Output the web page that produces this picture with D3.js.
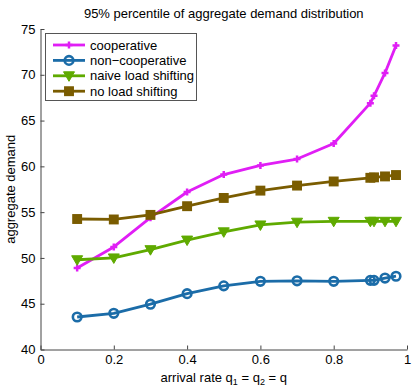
<!DOCTYPE html>
<html>
<head>
<meta charset="utf-8">
<script src="https://cdn.jsdelivr.net/npm/d3@7"></script>
<style>
  body { margin: 0; background: #fff; }
  svg { font-family: "Liberation Sans", Arial, sans-serif; }
</style>
</head>
<body>
<div id="chart"></div>
<script>
var w = 415,
  h = 391,
  fs = 13;

// data
var rates = [0.1, 0.2, 0.3, 0.4, 0.5, 0.6, 0.7, 0.8, 0.9, 0.91, 0.94, 0.97];
var cooperative = [48.9, 51.2, 54.4, 57.2, 59.1, 60.1, 60.8, 62.5, 66.9, 67.7, 70.2, 73.2];
var nonCooperative = [43.55, 43.95, 44.95, 46.1, 46.95, 47.45, 47.5, 47.45, 47.55, 47.55, 47.8, 48.0];
var naive = [49.8, 50.0, 50.9, 51.95, 52.85, 53.6, 53.9, 54.0, 54.0, 54.0, 54.0, 54.0];
var noShift = [54.25, 54.2, 54.7, 55.65, 56.55, 57.35, 57.9, 58.35, 58.75, 58.8, 58.9, 59.05];
var xTicks = [0, 0.2, 0.4, 0.6, 0.8, 1];
var yTicks = [40, 45, 50, 55, 60, 65, 70, 75];

var series = [
  { name: 'cooperative', values: cooperative, color: '#e01ef5', marker: 'plus' },
  { name: 'non\u2212cooperative', values: nonCooperative, color: '#1b6ca8', marker: 'circle' },
  { name: 'naive load shifting', values: naive, color: '#5faa00', marker: 'triangle' },
  { name: 'no load shifting', values: noShift, color: '#7a5c00', marker: 'square' }
];

// plot area (note: "top" clashes with window.top, so prefixed names)
var pLeft = 40.5, pRight = 407, pTop = 29, pBottom = 349.5;

var x = d3.scaleLinear().domain([0, 1]).range([pLeft, pRight]);
var y = d3.scaleLinear().domain([40, 75]).range([pBottom, pTop]);

var svg = d3.select('#chart').append('svg')
  .attr('width', w)
  .attr('height', h);

// axes (matlab style: inward ticks, only left and bottom)
var xAxis = svg.append('g')
  .attr('transform', 'translate(0,' + pBottom + ')')
  .call(d3.axisBottom(x).tickValues(xTicks).tickSizeInner(-4).tickSizeOuter(0)
    .tickFormat(function (d) { return d === 0 || d === 1 ? d : d3.format('.1f')(d); }));
var yAxis = svg.append('g')
  .attr('transform', 'translate(' + pLeft + ',0)')
  .call(d3.axisLeft(y).tickValues(yTicks).tickSizeInner(-4).tickSizeOuter(0));

[xAxis, yAxis].forEach(function (a) {
  a.select('.domain').attr('stroke', '#444').attr('stroke-width', 1);
  a.selectAll('.tick line').attr('stroke', '#444');
  a.selectAll('.tick text').attr('fill', '#000').attr('font-size', fs)
    .attr('font-family', '"Liberation Sans", Arial, sans-serif');
});
xAxis.selectAll('.tick text').attr('dy', '0.71em').attr('y', 5);
yAxis.selectAll('.tick text').attr('x', -5);

// lines
var line = d3.line()
  .x(function (d, i) { return x(rates[i]); })
  .y(function (d) { return y(d); });

function drawMarker(g, type, color) {
  if (type === 'plus') {
    g.append('path').attr('d', 'M-3.5,0H3.5M0,-3.5V3.5')
      .attr('stroke', color).attr('stroke-width', 2.5).attr('fill', 'none');
  } else if (type === 'circle') {
    g.append('circle').attr('r', 4.3).attr('fill', 'none')
      .attr('stroke', color).attr('stroke-width', 2.6);
  } else if (type === 'triangle') {
    g.append('path').attr('d', 'M-5.5,-4L5.5,-4L0,5.5Z').attr('fill', color)
      .attr('stroke', color).attr('stroke-width', 1);
  } else if (type === 'square') {
    g.append('rect').attr('x', -4.2).attr('y', -4.2).attr('width', 8.4).attr('height', 8.4)
      .attr('fill', color).attr('stroke', color).attr('stroke-width', 1.5);
  }
}

series.forEach(function (s) {
  svg.append('path')
    .datum(s.values)
    .attr('d', line)
    .attr('fill', 'none')
    .attr('stroke', s.color)
    .attr('stroke-width', 2.8)
    .attr('stroke-linejoin', 'round');

  s.values.forEach(function (v, i) {
    var g = svg.append('g')
      .attr('transform', 'translate(' + x(rates[i]) + ',' + y(v) + ')');
    drawMarker(g, s.marker, s.color);
  });
});

// title and labels
svg.append('text')
  .attr('x', (pLeft + pRight) / 2).attr('y', 18)
  .attr('text-anchor', 'middle').attr('font-size', fs)
  .text('95% percentile of aggregate demand distribution');

var xl = svg.append('text')
  .attr('x', (pLeft + pRight) / 2).attr('y', 382)
  .attr('text-anchor', 'middle').attr('font-size', fs);
xl.append('tspan').text('arrival rate q');
xl.append('tspan').attr('font-size', 9).attr('dy', 3).text('1');
xl.append('tspan').attr('dy', -3).text(' = q');
xl.append('tspan').attr('font-size', 9).attr('dy', 3).text('2');
xl.append('tspan').attr('dy', -3).text(' = q');

svg.append('text')
  .attr('transform', 'translate(15,' + ((pTop + pBottom) / 2) + ') rotate(-90)')
  .attr('text-anchor', 'middle').attr('font-size', fs)
  .text('aggregate demand');

// legend
var legend = svg.append('g');
legend.append('rect')
  .attr('x', 45.5).attr('y', 33.5).attr('width', 151).attr('height', 67)
  .attr('fill', '#fff').attr('stroke', '#555').attr('stroke-width', 1);

series.forEach(function (s, i) {
  var ly = 45 + i * 15.4;
  legend.append('line')
    .attr('x1', 53).attr('x2', 85).attr('y1', ly).attr('y2', ly)
    .attr('stroke', s.color).attr('stroke-width', 2.8);
  var g = legend.append('g').attr('transform', 'translate(69,' + ly + ')');
  drawMarker(g, s.marker, s.color);
  legend.append('text')
    .attr('x', 90).attr('y', ly).attr('dy', '0.35em')
    .attr('font-size', fs)
    .text(s.name);
});
</script>
</body>
</html>
